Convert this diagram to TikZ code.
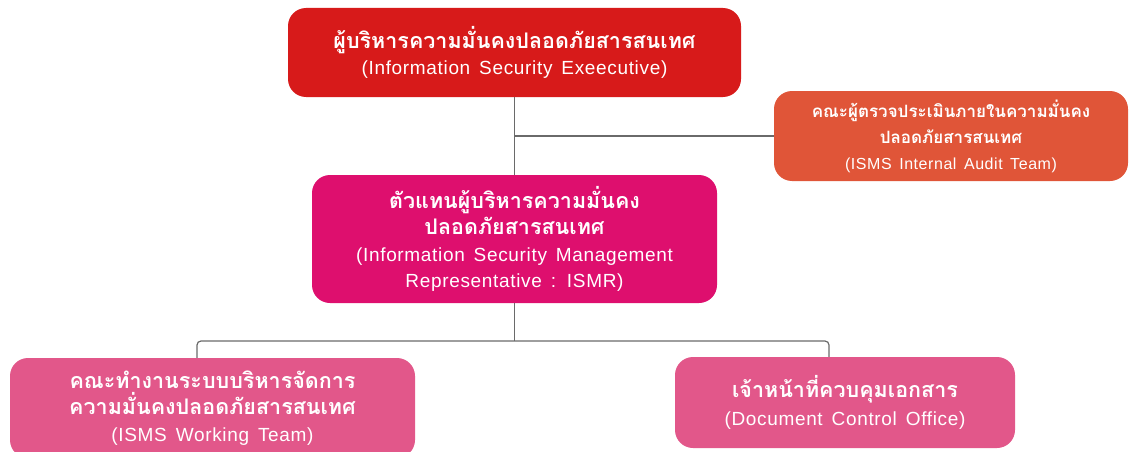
\documentclass[tikz,border=0pt]{standalone}
\usepackage{fontspec}
\setmainfont{Liberation Sans}[LetterSpace=3.5, WordSpace=1.5]
\newfontfamily\thai[Script=Thai]{Loma}
\definecolor{cTop}{HTML}{D71A1A}
\definecolor{cAudit}{HTML}{E05538}
\definecolor{cRep}{HTML}{DE0F6E}
\definecolor{cTeam}{HTML}{E2578A}
\definecolor{cLine}{HTML}{6A6A6A}
\newcommand{\thline}[2]{{\thai\bfseries\fontsize{#1}{26}\selectfont #2}}
\tikzset{
  box/.style={rounded corners=18pt, inner sep=0pt, align=center, text=white, anchor=center,
    font=\fontsize{19}{26}\selectfont},
  link/.style={draw=cLine, line width=1.2pt}
}
\begin{document}
\begin{tikzpicture}[x=1pt,y=-1pt]
\useasboundingbox (0,0) rectangle (1130,452);
\node[box, fill=cTop, minimum width=453pt, minimum height=89pt] (top) at (514.5,52.5)
  {\thline{21.5}{ผู้บริหารความมั่นคงปลอดภัยสารสนเทศ}\\
   (Information Security Exeecutive)};
\node[box, fill=cAudit, minimum width=354pt, minimum height=90pt, font=\fontsize{16}{26}\selectfont] (audit) at (951,136)
  {\thline{17}{คณะผู้ตรวจประเมินภายในความมั่นคง}\\
   \thline{17}{ปลอดภัยสารสนเทศ}\\
   (ISMS Internal Audit Team)};
\node[box, fill=cRep, minimum width=405pt, minimum height=128pt, font=\fontsize{19}{26.5}\selectfont] (rep) at (514.5,239)
  {\thline{21.5}{ตัวแทนผู้บริหารความมั่นคง}\\
   \thline{21.5}{ปลอดภัยสารสนเทศ}\\
   (Information Security Management\\
   Representative : ISMR)};
\node[box, fill=cTeam, minimum width=405pt, minimum height=100pt, font=\fontsize{19}{26.5}\selectfont] (work) at (212.5,408)
  {\thline{21.5}{คณะทำงานระบบบริหารจัดการ}\\
   \thline{21.5}{ความมั่นคงปลอดภัยสารสนเทศ}\\
   (ISMS Working Team)};
\node[box, fill=cTeam, minimum width=340pt, minimum height=91pt, font=\fontsize{19}{28}\selectfont] (doc) at (845,402.5)
  {\thline{21.5}{เจ้าหน้าที่ควบคุมเอกสาร}\\
   (Document Control Office)};
\coordinate (j) at (514.5,341);
\draw[link] (top.south) -- (rep.north);
\draw[link] (audit.west) -- (audit.west -| top.south);
\draw[link] (rep.south) -- (j);
\draw[link, rounded corners=4pt] ([xshift=-15.5pt]work.north) |- (j) -| ([xshift=-16pt]doc.north);
\end{tikzpicture}
\end{document}
